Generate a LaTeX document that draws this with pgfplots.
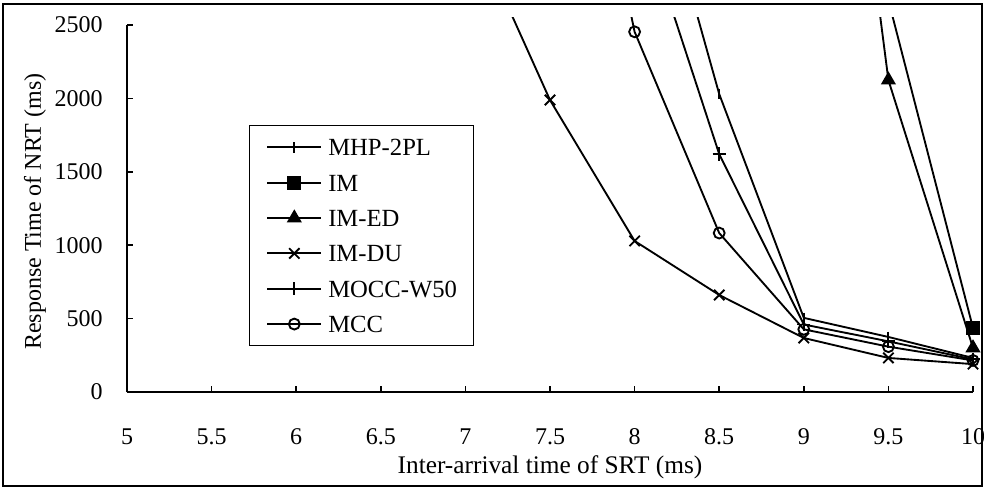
\documentclass[border=0pt]{standalone}
\usepackage{pgfplots}
\pgfplotsset{compat=1.18}
\usepackage{fontspec}
\setmainfont{Liberation Serif}

\begin{document}
\begin{tikzpicture}
\useasboundingbox (0,0) rectangle ({984*0.75pt},{-488*0.75pt});
\draw[line width=1.5pt] ({3*0.75pt},{-4*0.75pt}) rectangle ({982*0.75pt},{-486*0.75pt});
\begin{axis}[
  at={({127*0.75pt},{-392*0.75pt})}, anchor=south west,
  scale only axis, width=634.5pt, height=280.5pt,
  xmin=5, xmax=10, ymin=0, ymax=2548,
  xtick={5,5.5,...,10}, ytick={0,500,...,2500},
  axis x line*=bottom, axis y line*=left,
  axis line style={line width=1.4pt, -},
  every outer y axis line/.append style={shorten >=5.25pt},
  tick align=inside, major tick length=4.5pt,
  tick style={line width=1.2pt, black},
  /pgf/number format/assume math mode=true,
  /pgf/number format/.cd, 1000 sep={}, /pgfplots/.cd,
  xticklabel style={anchor=center, inner sep=0pt, yshift=-33.75pt, font=\fontsize{18}{20}\selectfont},
  yticklabel style={anchor=east, inner sep=0pt, xshift=-18pt, font=\fontsize{18}{20}\selectfont},
  xlabel={Inter-arrival time of SRT (ms)},
  ylabel={Response Time of NRT (ms)},
  xlabel style={at={(axis description cs:0.5,0)}, anchor=center, inner sep=0pt, yshift=-56.25pt, font=\fontsize{19}{21}\selectfont},
  ylabel style={at={(axis description cs:0,0.5)}, anchor=center, inner sep=0pt, xshift=-5pt, yshift=69pt, font=\fontsize{18}{20}\selectfont},
  every axis plot/.append style={black, line width=1.4pt, mark options={solid, line width=1.4pt}},
  legend image code/.code={\draw[mark repeat=2,mark phase=2] plot coordinates {(0pt,0pt) (20.25pt,0pt) (40.5pt,0pt)};},
  legend cell align=left,
  legend style={at={(axis description cs:0.1442,0.7139)}, anchor=north west, draw=black, line width=1.1pt,
    inner xsep=12.5pt, inner ysep=10pt, row sep=14pt, column sep=4.5pt,
    nodes={inner sep=0pt, text height=12.5pt, text depth=0pt},
    font=\fontsize{18.5}{20}\selectfont},
]
\addplot[mark=|, mark size=4pt] coordinates {(8,4090) (8.5,2030) (9,505) (9.5,375) (10,232)};
\addlegendentry{MHP-2PL}
\addplot[mark=square*, mark size=4.5pt] coordinates {(9,6000) (9.5,2668) (10,436)};
\addlegendentry{IM}
\addplot[mark=triangle*, mark size=5.2pt] coordinates {(9,6600) (9.5,2125) (10,300)};
\addlegendentry{IM-ED}
\addplot[mark=x, mark size=5.5pt] coordinates {(7,3269) (7.5,1989) (8,1029) (8.5,661) (9,368) (9.5,232) (10,190)};
\addlegendentry{IM-DU}
\addplot[mark=+, mark size=5pt] coordinates {(8,3384) (8.5,1621) (9,460) (9.5,345) (10,222)};
\addlegendentry{MOCC-W50}
\addplot[mark=o, mark size=4.1pt] coordinates {(7.5,5200) (8,2454) (8.5,1083) (9,427) (9.5,309) (10,215)};
\addlegendentry{MCC}
\end{axis}
\end{tikzpicture}
\end{document}
